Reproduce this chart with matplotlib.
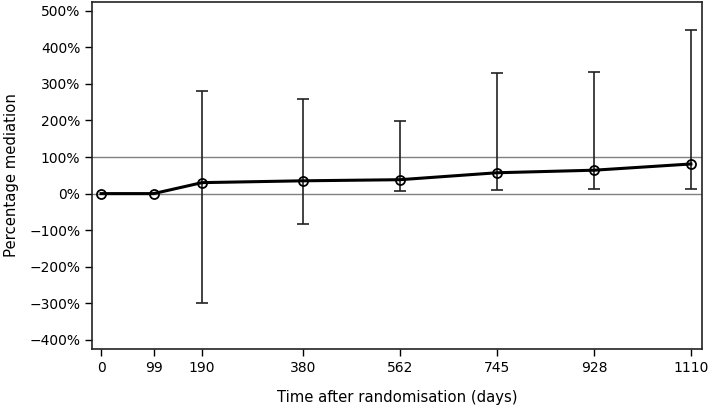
import numpy as np
import matplotlib.pyplot as plt
from matplotlib.ticker import FuncFormatter

# valeurs
jours = [0, 99, 190, 380, 562, 745, 928, 1110]
mediation = [0, 0, 30, 35, 38, 57, 64, 81]
borne_inf = [np.nan, np.nan, -300, -82, 6, 9, 13, 12]
borne_sup = [np.nan, np.nan, 280, 258, 198, 330, 332, 448]
yticks = list(range(-400, 501, 100))

plt.rcParams['font.family'] = ['DejaVu Sans']
plt.rcParams['font.size'] = 10

fig = plt.figure(figsize=(7.09, 4.09), dpi=100)
ax = fig.add_axes([0.1298, 0.1467, 0.8604, 0.8484])

ax.axhline(0, color='#808080', lw=1, zorder=1)
ax.axhline(100, color='#808080', lw=1, zorder=1)

x = np.array(jours, dtype=float)
m = np.array(mediation, dtype=float)
lo = np.array(borne_inf, dtype=float)
hi = np.array(borne_sup, dtype=float)
ok = ~np.isnan(lo)
ax.errorbar(x[ok], m[ok], yerr=[m[ok] - lo[ok], hi[ok] - m[ok]], fmt='none',
            ecolor='#222222', elinewidth=1.2, capsize=4.5, capthick=1.2, zorder=2)
ax.plot(x, m, color='black', lw=2.2, zorder=3)
ax.plot(x, m, 'o', mfc='none', mec='black', mew=1.3, ms=6.5, zorder=4)

ax.set_xlim(-17, 1131)
ax.set_ylim(-425, 524)
ax.set_xticks(jours)
ax.set_yticks(yticks)
ax.yaxis.set_major_formatter(FuncFormatter(lambda v, p: f"{int(v)}%".replace('-', '\u2212')))
ax.tick_params(direction='out', length=5, width=1, colors='black')
for s in ax.spines.values():
    s.set_linewidth(1.2)
    s.set_color('#222222')

ax.set_xlabel('Time after randomisation (days)', labelpad=11, fontsize=10.7)
ax.set_ylabel('Percentage mediation', labelpad=7, fontsize=10.7)

fig.savefig('out.png', dpi=100)
